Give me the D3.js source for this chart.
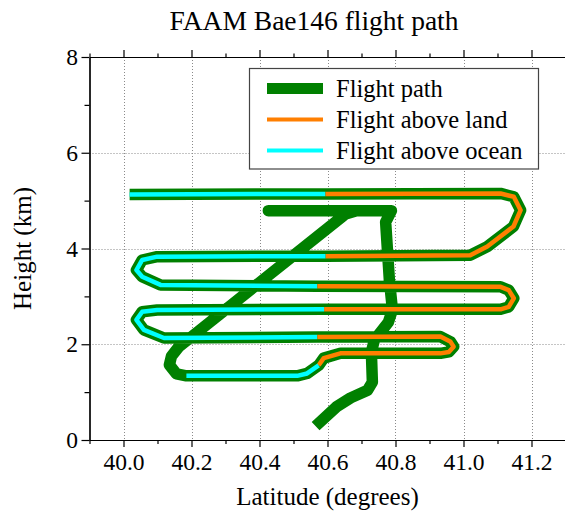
<!DOCTYPE html>
<html>
<head>
<meta charset="utf-8">
<script src="https://cdn.jsdelivr.net/npm/d3@7"></script>
<style>
  html, body { margin: 0; padding: 0; background: #fff; }
  svg { display: block; }
  text { font-family: "Liberation Serif", "Times New Roman", serif; fill: #000; }
</style>
</head>
<body>
<svg id="chart" width="565" height="515"></svg>
<script>
// Flight track: latitude (degrees) and height (km) at each vertex,
// plus the surface under the leg that leaves each vertex.
const pathLat = [
  40.018, 40.594, 41.109, 41.148, 41.168, 41.147, 41.070, 41.020,
  40.594, 40.099, 40.055, 40.038, 40.055, 40.109,
  40.570, 41.109, 41.133, 41.148, 41.133, 41.109,
  40.590, 40.099, 40.055, 40.038, 40.060, 40.119,
  40.570, 40.932, 40.962, 40.971, 40.957, 40.932, 40.638, 40.589,
  40.574, 40.540, 40.511, 40.185,
  40.156, 40.135, 40.141, 40.162, 40.653, 40.685, 40.426, 40.788,
  40.771, 40.782, 40.791, 40.779, 40.738, 40.729, 40.732, 40.718,
  40.668, 40.626, 40.565
];
const pathAlt = [
  5.13, 5.14, 5.15, 5.08, 4.80, 4.46, 4.04, 3.86,
  3.84, 3.83, 3.76, 3.55, 3.41, 3.24,
  3.21, 3.20, 3.13, 2.96, 2.78, 2.73,
  2.73, 2.715, 2.68, 2.51, 2.30, 2.13,
  2.15, 2.16, 2.05, 1.95, 1.84, 1.81, 1.81, 1.71,
  1.56, 1.39, 1.34, 1.34,
  1.38, 1.57, 1.75, 1.94, 4.72, 4.79, 4.79, 4.79,
  4.55, 3.34, 2.72, 2.46, 2.09, 1.84, 1.21, 1.04,
  0.88, 0.69, 0.29
];
const pathSurface = [
  "ocean", "land", "land", "land", "land", "land", "land", "land",
  "ocean", "ocean", "ocean", "ocean", "ocean", "ocean",
  "land", "land", "land", "land", "land", "land",
  "ocean", "ocean", "ocean", "ocean", "ocean", "ocean",
  "land", "land", "land", "land", "land", "land", "land", "land",
  "ocean", "ocean", "ocean", "none",
  "none", "none", "none", "none", "none", "none", "none", "none",
  "none", "none", "none", "none", "none", "none", "none", "none",
  "none", "none", "none"
];

const xTicks = [40.0, 40.2, 40.4, 40.6, 40.8, 41.0, 41.2];
const xMinorTicks = [39.9, 40.1, 40.3, 40.5, 40.7, 40.9, 41.1, 41.3];
const yTicks = [0, 2, 4, 6, 8];
const yMinorTicks = [1, 3, 5, 7];
const gridY = [2, 4, 6];

const legendLabels = ["Flight path", "Flight above land", "Flight above ocean"];
const surfaceColor = { land: "#ff7f00", ocean: "#00ffff" };
const pathColor = "#008000";

const svg = d3.select("#chart");
const plotLeft = 89.5, plotRight = 565.5, plotTop = 57, plotBottom = 440;

const x = d3.scaleLinear().domain([39.9, 41.3]).range([plotLeft, plotRight]);
const y = d3.scaleLinear().domain([0, 8]).range([plotBottom, plotTop]);

// dotted grid
const grid = svg.append("g").attr("stroke", "#8a8a8a").attr("stroke-width", 1)
  .attr("stroke-dasharray", "1,2").attr("fill", "none");
grid.selectAll("line.v").data(xTicks).join("line")
  .attr("x1", d => Math.round(x(d)) + 0.5).attr("x2", d => Math.round(x(d)) + 0.5)
  .attr("y1", plotTop).attr("y2", plotBottom);
grid.selectAll("line.h").data(gridY).join("line")
  .attr("y1", d => Math.round(y(d)) + 0.5).attr("y2", d => Math.round(y(d)) + 0.5)
  .attr("x1", plotLeft).attr("x2", plotRight);

// flight track
const points = pathLat.map((lat, i) => [lat, pathAlt[i]]);
const line = d3.line().x(d => x(d[0])).y(d => y(d[1]));

svg.append("path")
  .attr("d", line(points))
  .attr("fill", "none")
  .attr("stroke", pathColor)
  .attr("stroke-width", 11.5)
  .attr("stroke-linejoin", "round")
  .attr("stroke-linecap", "butt");

// split the track into runs over land / ocean
const runs = [];
let cur = null;
for (let i = 0; i < points.length - 1; i++) {
  const s = pathSurface[i];
  if (s === "none") { cur = null; continue; }
  if (!cur || cur.surface !== s) {
    cur = { surface: s, pts: [points[i]] };
    runs.push(cur);
  }
  cur.pts.push(points[i + 1]);
}
svg.append("g").selectAll("path").data(runs).join("path")
  .attr("d", d => line(d.pts))
  .attr("fill", "none")
  .attr("stroke", d => surfaceColor[d.surface])
  .attr("stroke-width", 4.5)
  .attr("stroke-linejoin", "round")
  .attr("stroke-linecap", "butt");

// axes
function styleAxis(g) {
  g.selectAll("path.domain").attr("stroke", "#000").attr("stroke-width", 1.2);
  g.selectAll(".tick line").attr("stroke", "#000").attr("stroke-width", 1.2);
  g.selectAll(".tick text").style("font-family", "'Liberation Serif', serif")
    .style("font-size", "23.5px").attr("fill", "#000");
}
const fmt = d3.format(".1f");

svg.append("g").attr("transform", `translate(0,${plotBottom})`)
  .call(d3.axisBottom(x).tickValues(xTicks).tickFormat(fmt).tickSize(7).tickSizeOuter(0).tickPadding(6.5))
  .call(styleAxis);
svg.append("g").attr("transform", `translate(0,${plotBottom})`)
  .call(d3.axisBottom(x).tickValues(xMinorTicks).tickFormat("").tickSize(4).tickSizeOuter(0))
  .call(styleAxis);
svg.append("g").attr("transform", `translate(0,${plotTop})`)
  .call(d3.axisTop(x).tickValues(xTicks).tickFormat("").tickSize(7).tickSizeOuter(0))
  .call(styleAxis);
svg.append("g").attr("transform", `translate(0,${plotTop})`)
  .call(d3.axisTop(x).tickValues(xMinorTicks).tickFormat("").tickSize(3.5).tickSizeOuter(0))
  .call(styleAxis);
svg.append("g").attr("transform", `translate(${plotLeft},0)`)
  .call(d3.axisLeft(y).tickValues(yTicks).tickFormat(d3.format("d")).tickSize(8).tickSizeOuter(0).tickPadding(3.5))
  .call(styleAxis);
svg.append("g").attr("transform", `translate(${plotLeft},0)`)
  .call(d3.axisLeft(y).tickValues(yMinorTicks).tickFormat("").tickSize(5).tickSizeOuter(0))
  .call(styleAxis);

// titles
svg.append("text").attr("x", 314).attr("y", 30).attr("text-anchor", "middle")
  .style("font-size", "27.5px").text("FAAM Bae146 flight path");
svg.append("text").attr("x", 327.5).attr("y", 505).attr("text-anchor", "middle")
  .style("font-size", "25px").text("Latitude (degrees)");
svg.append("text").attr("transform", "translate(31,248.5) rotate(-90)")
  .attr("text-anchor", "middle").style("font-size", "25px").text("Height (km)");

// legend
const lg = svg.append("g");
lg.append("rect").attr("x", 249.5).attr("y", 68.5).attr("width", 289).attr("height", 100.5)
  .attr("fill", "#fff").attr("stroke", "#444").attr("stroke-width", 1.2);
const legendStyles = [
  { color: pathColor, width: 11 },
  { color: surfaceColor.land, width: 4 },
  { color: surfaceColor.ocean, width: 4 }
];
const legendRows = lg.selectAll("g.row").data(legendLabels).join("g")
  .attr("transform", (d, i) => `translate(0,${88.5 + i * 31})`);
legendRows.append("line").attr("x1", 267).attr("x2", 323).attr("y1", 0).attr("y2", 0)
  .attr("stroke", (d, i) => legendStyles[i].color)
  .attr("stroke-width", (d, i) => legendStyles[i].width);
legendRows.append("text").attr("x", 336).attr("y", 8)
  .style("font-size", "24.5px").text(d => d);
</script>
</body>
</html>
